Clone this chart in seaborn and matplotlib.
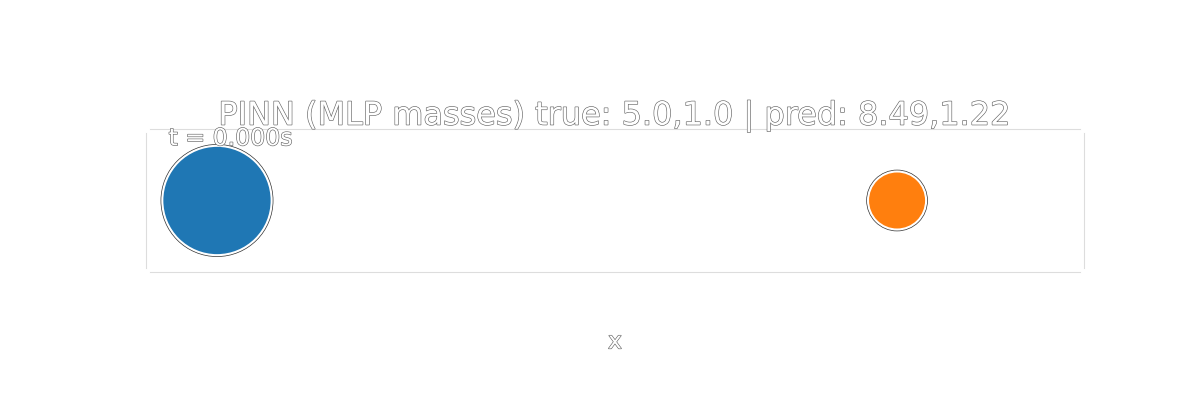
import matplotlib
matplotlib.use("Agg")
import matplotlib.pyplot as plt
import matplotlib.patheffects as pe
import seaborn as sns
import pandas as pd

# data
x_pos = [-1.0, 1.0]
y_pos = [0.0, 0.0]
masses = ["5.0", "1.0"]
marker_size = [6200, 1750]
colors = ["#1f77b4", "#ff7f0e"]
title = "PINN (MLP masses) true: 5.0,1.0 | pred: 8.49,1.22"
time_label = "t = 0.000s"

sns.set_style("white")
plt.rcParams['font.family'] = ['DejaVu Sans']
outline = [pe.withStroke(linewidth=0.9, foreground="#666666")]

df = pd.DataFrame({"x": x_pos, "y": y_pos, "m": masses})

fig = plt.figure(figsize=(12, 4), dpi=100)
ax = fig.add_axes([0.125, 0.33, 0.775, 0.3375])
sns.scatterplot(data=df, x="x", y="y", hue="m", size="m",
                palette=colors, sizes=dict(zip(masses, marker_size)),
                edgecolor="white", linewidth=1.5, legend=False, ax=ax)
for c in ax.collections:
    c.set_path_effects([pe.withStroke(linewidth=2.5, foreground="#333333")])
ax.set_xlim(-1.197, 1.538)
ax.set_ylim(-0.2, 0.2)
ax.set_yticks([-0.2, 0.0, 0.2])
ax.set_xlabel("x", fontsize=17, color="white", path_effects=outline, labelpad=10)
ax.set_ylabel("")
ax.set_title(title, fontsize=23, color="white", path_effects=outline, pad=6)
ax.text(0.02, 1.05, time_label, transform=ax.transAxes, va="top",
        fontsize=17, color="white", path_effects=outline)
ax.tick_params(labelsize=17, colors="#dddddd", labelcolor="white", length=8, width=1, pad=6)
for lab in ax.get_xticklabels() + ax.get_yticklabels():
    lab.set_path_effects(outline)
for side, s in ax.spines.items():
    s.set_color("#dddddd")
sns.despine(ax=ax, offset=3, top=False, right=False)
fig.savefig("out.png")
